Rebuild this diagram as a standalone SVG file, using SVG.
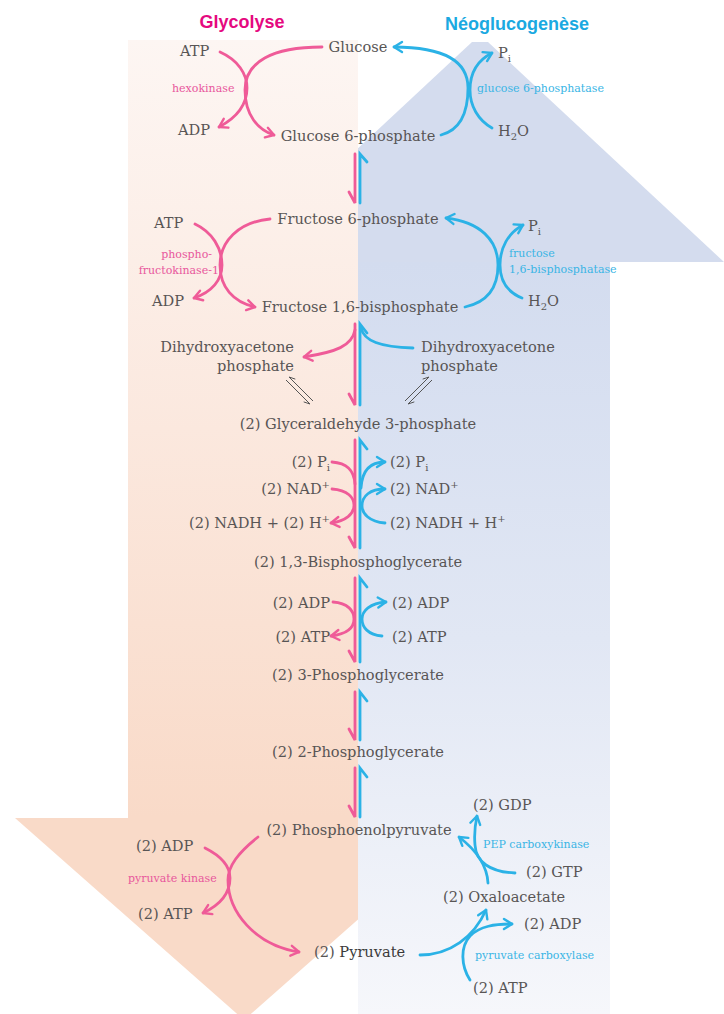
<svg xmlns="http://www.w3.org/2000/svg" width="724" height="1014" viewBox="0 0 724 1014">
<defs>
<linearGradient id="gPink" gradientUnits="userSpaceOnUse" x1="0" y1="40" x2="0" y2="818">
<stop offset="0" stop-color="#fdf6f3"/>
<stop offset="0.5" stop-color="#fbe8de"/>
<stop offset="1" stop-color="#f9dac8"/>
</linearGradient>
<linearGradient id="gBlue" gradientUnits="userSpaceOnUse" x1="0" y1="262" x2="0" y2="1014">
<stop offset="0" stop-color="#d3dcef"/>
<stop offset="0.5" stop-color="#e1e7f4"/>
<stop offset="1" stop-color="#f6f7fb"/>
</linearGradient>
<marker id="mP" markerUnits="userSpaceOnUse" markerWidth="14" markerHeight="14" refX="9" refY="5" orient="auto" overflow="visible">
<path d="M1,0 L9,5 L1,10" fill="none" stroke="#ef5b98" stroke-width="2.4" stroke-linecap="round" stroke-linejoin="round"/>
</marker>
<marker id="mB" markerUnits="userSpaceOnUse" markerWidth="14" markerHeight="14" refX="9" refY="5" orient="auto" overflow="visible">
<path d="M1,0 L9,5 L1,10" fill="none" stroke="#2bb2e6" stroke-width="2.4" stroke-linecap="round" stroke-linejoin="round"/>
</marker>
</defs>
<style>
.t{font-family:"DejaVu Serif","Liberation Serif",serif;font-size:14.6px;fill:#585555}
.c{text-anchor:middle}
.e{text-anchor:end}
.ep{font-family:"DejaVu Serif","Liberation Serif",serif;font-size:11px;fill:#e8579c}
.eb{font-family:"DejaVu Serif","Liberation Serif",serif;font-size:11px;fill:#3ab5e5}
.sub{font-size:10px}
.pk{fill:none;stroke:#ef5b98;stroke-width:2.8;stroke-linecap:round}
.bl{fill:none;stroke:#2bb2e6;stroke-width:2.8;stroke-linecap:round}
.eq{fill:none;stroke:#555;stroke-width:1}
.title{font-family:"Liberation Sans",Arial,sans-serif;font-weight:bold;font-size:18px}
</style>

<g id="background">
<polygon points="236,262 472,42 488,42 724,262" fill="#d4dcee"/>
<rect x="128" y="40" width="230" height="778" fill="url(#gPink)"/>
<polygon points="15,818 473,818 244,1020" fill="#f9dac8"/>
<rect x="358" y="262" width="252" height="752" fill="url(#gBlue)"/>
</g>

<g id="titles">
<text class="title c" x="242" y="28" fill="#e5097f">Glycolyse</text>
<text class="title c" x="517" y="30" fill="#1aa9e1">Néoglucogenèse</text>
</g>

<g id="connectors">
<!-- hexokinase -->
<path class="pk" d="M322,47 C272,47 245,62 245,90 C245,115 258,130 274,135" marker-end="url(#mP)"/>
<path class="pk" d="M220,52 C238,60 247,74 247,88 C247,105 236,118 219,127" marker-end="url(#mP)"/>
<!-- glucose 6-phosphatase -->
<path class="bl" d="M441,135 C460,130 468,112 468,88 C468,62 445,47 394,47" marker-end="url(#mB)"/>
<path class="bl" d="M492,128 C478,120 470,106 470,90 C470,72 478,60 492,53" marker-end="url(#mB)"/>
<!-- G6P <-> F6P -->
<path class="pk" d="M355,154 V203 L349,192"/>
<path class="bl" d="M360,203 V154 L367,162"/>
<!-- PFK-1 -->
<path class="pk" d="M270,219 C238,222 220,242 220,265 C220,287 233,302 255,307" marker-end="url(#mP)"/>
<path class="pk" d="M195,224 C212,232 222,248 222,265 C222,280 212,292 194,298" marker-end="url(#mP)"/>
<!-- FBPase -->
<path class="bl" d="M465,307 C488,302 498,287 498,265 C498,240 480,222 446,218" marker-end="url(#mB)"/>
<path class="bl" d="M522,298 C507,292 500,280 500,265 C500,248 508,233 523,225" marker-end="url(#mB)"/>
<!-- F1,6BP <-> G3P -->
<path class="pk" d="M355,324 V405 L349,394"/>
<path class="pk" d="M355,330 C352,346 336,352 304,357" marker-end="url(#mP)"/>
<path class="bl" d="M360,405 V324 L367,333"/>
<path class="bl" d="M413,348 C380,347 364,341 361,328"/>
<!-- triose equilibria -->
<path class="eq" d="M286,380 L310,404 L303.7,401.9"/>
<path class="eq" d="M313,401 L289,377 L295.3,379.1"/>
<path class="eq" d="M432,380 L408,404 L414.3,401.9"/>
<path class="eq" d="M405,401 L429,377 L422.7,379.1"/>
<!-- G3P <-> 1,3BPG -->
<path class="pk" d="M355,440 V548 L349,537"/>
<path class="pk" d="M332,462 C347,463 354,470 355,484"/>
<path class="pk" d="M332,489 C348,490 354,498 354,505 C354,514 346,521 331,523" marker-end="url(#mP)"/>
<path class="bl" d="M360,548 V440 L367,449"/>
<path class="bl" d="M361,488 C362,470 370,462 385,462" marker-end="url(#mB)"/>
<path class="bl" d="M385,523 C369,522 362,513 362,506 C362,496 370,489 385,489" marker-end="url(#mB)"/>
<!-- 1,3BPG <-> 3PG -->
<path class="pk" d="M355,578 V662 L349,651"/>
<path class="pk" d="M333,602 C348,603 354,611 354,619 C354,628 347,634 331,636" marker-end="url(#mP)"/>
<path class="bl" d="M360,662 V578 L367,587"/>
<path class="bl" d="M382,636 C368,635 362,627 362,619 C362,611 370,603 386,602" marker-end="url(#mB)"/>
<!-- 3PG <-> 2PG -->
<path class="pk" d="M355,692 V740 L349,729"/>
<path class="bl" d="M360,740 V692 L367,701"/>
<!-- 2PG <-> PEP -->
<path class="pk" d="M355,768 V817 L349,806"/>
<path class="bl" d="M360,817 V768 L367,777"/>
<!-- pyruvate kinase -->
<path class="pk" d="M258,837 C238,853 228,866 228,880 C228,912 255,945 299,952" marker-end="url(#mP)"/>
<path class="pk" d="M205,848 C221,856 230,866 230,878 C230,893 220,905 203,913" marker-end="url(#mP)"/>
<!-- pyruvate carboxylase -->
<path class="bl" d="M420,955 C450,955 474,937 486,910" marker-end="url(#mB)"/>
<path class="bl" d="M470,980 C461,966 460,947 470,936 C480,926 495,924 512,924" marker-end="url(#mB)"/>
<!-- PEP carboxykinase -->
<path class="bl" d="M488,883 C487,864 476,850 459,837" marker-end="url(#mB)"/>
<path class="bl" d="M515,873 C490,872 476,862 475,845 C474,834 475,825 477,816" marker-end="url(#mB)"/>
</g>

<g id="n-glucose"><text class="t c" x="358" y="52" fill="#444">Glucose</text></g>
<g id="n-atp1"><text class="t" x="180" y="56">ATP</text></g>
<g id="n-hexokinase"><text class="ep" x="172" y="92">hexokinase</text></g>
<g id="n-adp1"><text class="t" x="178" y="135">ADP</text></g>
<g id="n-g6p"><text class="t c" x="358" y="141">Glucose 6-phosphate</text></g>
<g id="n-pi1"><text class="t" x="498" y="58">P<tspan class="sub" dy="4">i</tspan></text></g>
<g id="n-g6pase"><text class="eb" x="477" y="92">glucose 6-phosphatase</text></g>
<g id="n-h2o1"><text class="t" x="498" y="136">H<tspan class="sub" dy="4">2</tspan><tspan dy="-4">O</tspan></text></g>

<g id="n-f6p"><text class="t c" x="358" y="224">Fructose 6-phosphate</text></g>
<g id="n-atp2"><text class="t" x="154" y="228">ATP</text></g>
<g id="n-pfk"><text class="ep e" x="212" y="258">phospho-</text><text class="ep e" x="219" y="274">fructokinase-1</text></g>
<g id="n-adp2"><text class="t" x="152" y="306">ADP</text></g>
<g id="n-f16bp"><text class="t c" x="360" y="312">Fructose 1,6-bisphosphate</text></g>
<g id="n-pi2"><text class="t" x="528" y="231">P<tspan class="sub" dy="4">i</tspan></text></g>
<g id="n-fbpase"><text class="eb" x="509" y="257">fructose</text><text class="eb" x="509" y="273">1,6-bisphosphatase</text></g>
<g id="n-h2o2"><text class="t" x="528" y="306">H<tspan class="sub" dy="4">2</tspan><tspan dy="-4">O</tspan></text></g>

<g id="n-dhap-l"><text class="t e" x="294" y="352">Dihydroxyacetone</text><text class="t e" x="294" y="371">phosphate</text></g>
<g id="n-dhap-r"><text class="t" x="421" y="352">Dihydroxyacetone</text><text class="t" x="421" y="371">phosphate</text></g>
<g id="n-g3p"><text class="t c" x="358" y="429">(2) Glyceraldehyde 3-phosphate</text></g>

<g id="n-pi3"><text class="t e" x="330" y="467">(2) P<tspan class="sub" dy="4">i</tspan></text></g>
<g id="n-nad1"><text class="t e" x="330" y="494">(2) NAD<tspan class="sub" dy="-6">+</tspan></text></g>
<g id="n-nadh1"><text class="t e" x="330" y="528">(2) NADH + (2) H<tspan class="sub" dy="-6">+</tspan></text></g>
<g id="n-pi4"><text class="t" x="390" y="467">(2) P<tspan class="sub" dy="4">i</tspan></text></g>
<g id="n-nad2"><text class="t" x="390" y="494">(2) NAD<tspan class="sub" dy="-6">+</tspan></text></g>
<g id="n-nadh2"><text class="t" x="390" y="528">(2) NADH + H<tspan class="sub" dy="-6">+</tspan></text></g>
<g id="n-13bpg"><text class="t c" x="358" y="567">(2) 1,3-Bisphosphoglycerate</text></g>

<g id="n-adp3"><text class="t e" x="330" y="608">(2) ADP</text></g>
<g id="n-atp3"><text class="t e" x="330" y="642">(2) ATP</text></g>
<g id="n-adp4"><text class="t" x="392" y="608">(2) ADP</text></g>
<g id="n-atp4"><text class="t" x="392" y="642">(2) ATP</text></g>
<g id="n-3pg"><text class="t c" x="358" y="680">(2) 3-Phosphoglycerate</text></g>
<g id="n-2pg"><text class="t c" x="358" y="757">(2) 2-Phosphoglycerate</text></g>
<g id="n-pep"><text class="t c" x="359" y="835">(2) Phosphoenolpyruvate</text></g>

<g id="n-adp5"><text class="t" x="136" y="851">(2) ADP</text></g>
<g id="n-pk"><text class="ep" x="128" y="882">pyruvate kinase</text></g>
<g id="n-atp5"><text class="t" x="138" y="919">(2) ATP</text></g>
<g id="n-pyr"><text class="t" x="314" y="957">(2) <tspan fill="#3a3a3a">Pyruvate</tspan></text></g>

<g id="n-gdp"><text class="t" x="473" y="810">(2) GDP</text></g>
<g id="n-pepck"><text class="eb" x="483" y="848">PEP carboxykinase</text></g>
<g id="n-gtp"><text class="t" x="526" y="877">(2) GTP</text></g>
<g id="n-oaa"><text class="t" x="443" y="902">(2) Oxaloacetate</text></g>
<g id="n-adp6"><text class="t" x="524" y="929">(2) ADP</text></g>
<g id="n-pc"><text class="eb" x="475" y="959">pyruvate carboxylase</text></g>
<g id="n-atp6"><text class="t" x="473" y="993">(2) ATP</text></g>
</svg>
